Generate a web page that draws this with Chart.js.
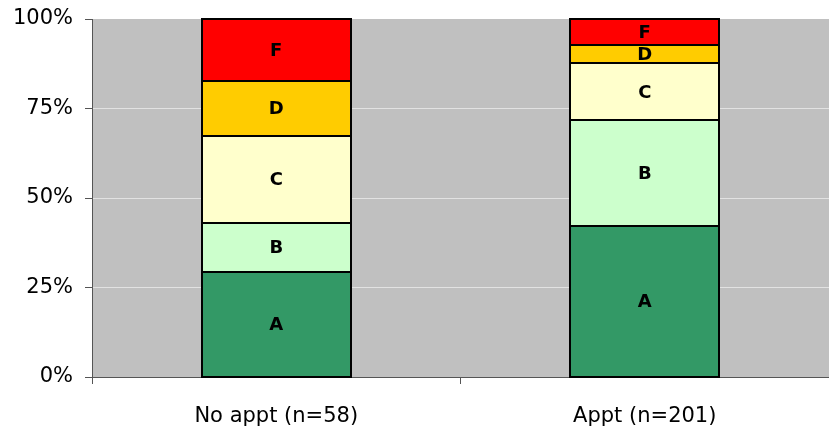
<!DOCTYPE html>
<html>
<head>
<meta charset="utf-8">
<script src="https://cdn.jsdelivr.net/npm/chart.js@4/dist/chart.umd.min.js"></script>
<style>
html,body{margin:0;padding:0;background:#fff;}
#wrap{width:829px;height:427px;}
</style>
</head>
<body>
<div id="wrap"><canvas id="c" width="829" height="427"></canvas></div>
<script>
const categories = ["No appt (n=58)", "Appt (n=201)"];
const gradeLabels = ["A", "B", "C", "D", "F"];
const seriesA = [29.3, 42.3];
const seriesB = [13.8, 29.4];
const seriesC = [24.1, 15.9];
const seriesD = [15.5, 5.0];
const seriesF = [17.3, 7.4];
const yTicks = [0, 25, 50, 75, 100];
const colors = ["#339966", "#CCFFCC", "#FFFFCC", "#FFCC00", "#FF0000"];

const seriesList = [seriesA, seriesB, seriesC, seriesD, seriesF];
const FONT = "'DejaVu Sans', sans-serif";

const bgPlugin = {
  id: 'bg',
  beforeDraw(chart) {
    const {ctx, chartArea: a} = chart;
    ctx.save();
    ctx.fillStyle = '#C0C0C0';
    ctx.fillRect(a.left, a.top, a.right - a.left, a.bottom - a.top);
    ctx.restore();
  }
};

const labelPlugin = {
  id: 'segLabels',
  afterDatasetsDraw(chart) {
    const ctx = chart.ctx;
    ctx.save();
    ctx.strokeStyle = '#000';
    ctx.lineWidth = 2;
    chart.data.datasets.forEach((ds, i) => {
      const meta = chart.getDatasetMeta(i);
      meta.data.forEach((bar) => {
        const p = bar.getProps(['x', 'y', 'base', 'width'], true);
        const l = Math.round(p.x - p.width / 2), r = Math.round(p.x + p.width / 2);
        const t = Math.round(p.y), b = Math.round(p.base);
        ctx.strokeRect(l, t, r - l, b - t);
      });
    });
    ctx.fillStyle = '#000';
    ctx.font = "bold 18px " + FONT;
    ctx.textAlign = 'center';
    ctx.textBaseline = 'middle';
    chart.data.datasets.forEach((ds, i) => {
      const meta = chart.getDatasetMeta(i);
      meta.data.forEach((bar) => {
        const p = bar.getProps(['x', 'y', 'base'], true);
        ctx.fillText(ds.label, p.x, (p.y + p.base) / 2 + 1);
      });
    });
    ctx.restore();
  }
};

new Chart(document.getElementById('c'), {
  type: 'bar',
  data: {
    labels: categories,
    datasets: seriesList.map((s, i) => ({
      label: gradeLabels[i],
      data: s,
      backgroundColor: colors[i],
      borderWidth: 0,
      barPercentage: 0.404,
      categoryPercentage: 1.0
    }))
  },
  options: {
    responsive: false,
    animation: false,
    devicePixelRatio: 1,
    layout: { padding: { top: 19, right: 0, left: 0, bottom: 0 } },
    plugins: { legend: { display: false }, tooltip: { enabled: false } },
    scales: {
      x: {
        stacked: true,
        offset: true,
        grid: { display: true, drawOnChartArea: false, tickLength: 7, tickColor: '#555', offset: true },
        border: { color: '#555', width: 1 },
        ticks: { color: '#000', font: { family: FONT, size: 21 }, padding: 20 },
        afterFit(s) { s.height = 50; s.paddingLeft = 0; s.paddingRight = 0; }
      },
      y: {
        stacked: true,
        min: 0,
        max: 100,
        afterBuildTicks(s) { s.ticks = yTicks.map(v => ({ value: v })); },
        grid: {
          tickLength: 7,
          tickColor: '#555',
          color: (c) => (c.tick && (c.tick.value === 0 || c.tick.value === 100)) ? 'rgba(0,0,0,0)' : '#E2E2E2',
          lineWidth: 1
        },
        border: { color: '#555', width: 1 },
        ticks: { color: '#000', font: { family: FONT, size: 21 }, padding: 12, callback: (v) => v + '%' },
        afterFit(s) { s.width = 92; s.paddingTop = 0; s.paddingBottom = 0; }
      }
    }
  },
  plugins: [bgPlugin, labelPlugin]
});
</script>
</body>
</html>
